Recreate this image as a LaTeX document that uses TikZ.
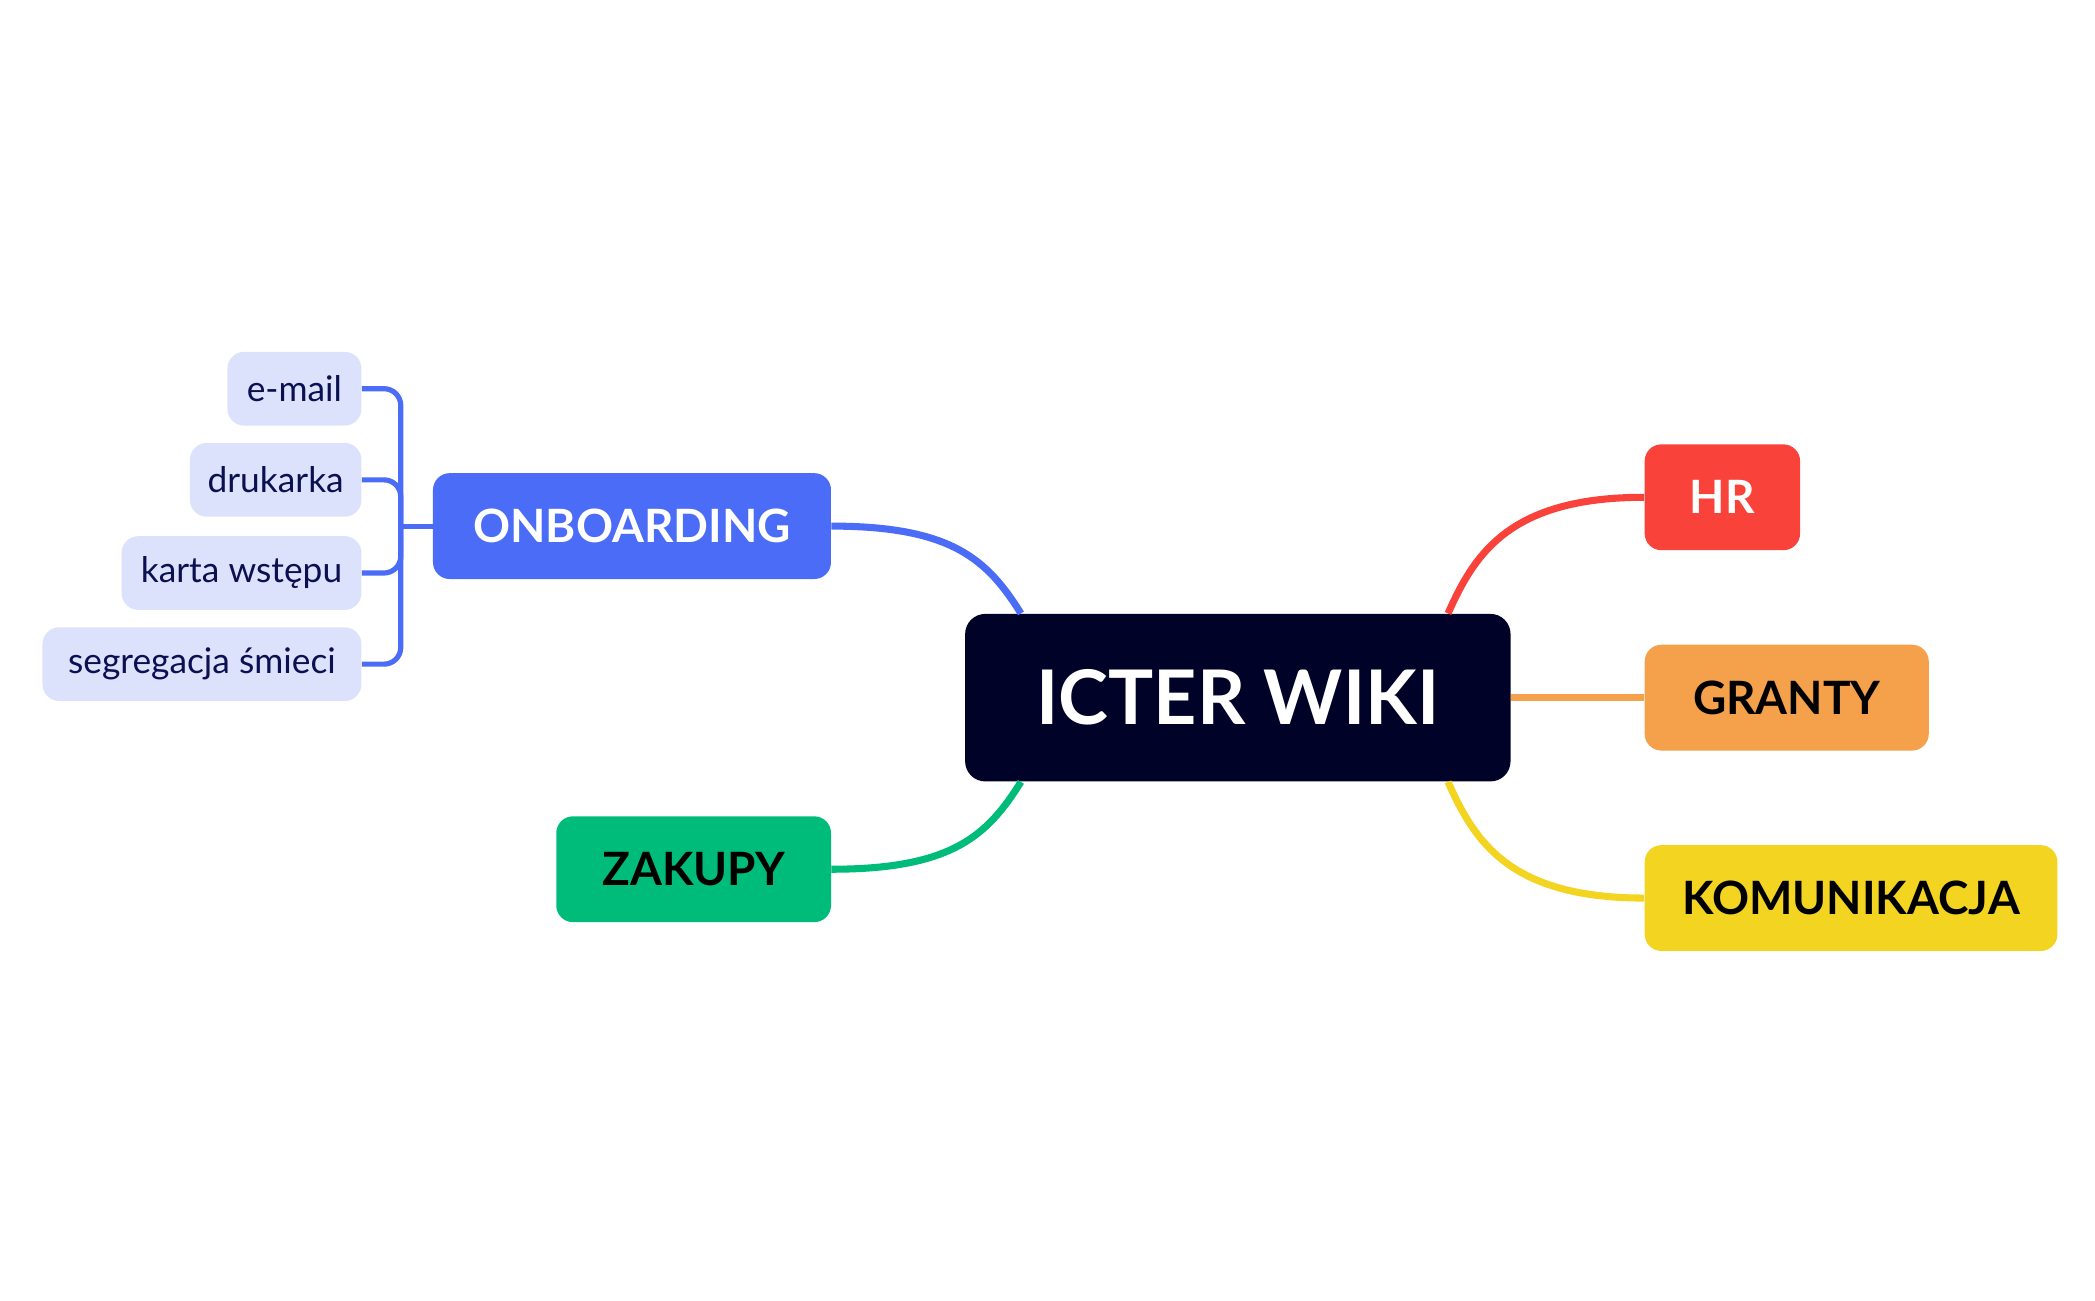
\documentclass[tikz,border=0pt]{standalone}
\usepackage{fontspec}
\setmainfont{Lato}
\usetikzlibrary{positioning, calc}
\definecolor{navy}{HTML}{000228}
\definecolor{obblue}{HTML}{4A6CF7}
\definecolor{leafbg}{HTML}{DDE2FC}
\definecolor{leaftx}{HTML}{0A1050}
\definecolor{zgreen}{HTML}{00BC7B}
\definecolor{hrred}{HTML}{F9423A}
\definecolor{gorange}{HTML}{F5A04A}
\definecolor{kyellow}{HTML}{F2D421}
\tikzset{box/.style = {
  rectangle, rounded corners=2.5mm,
  minimum height=1.58cm,
  text centered, font=\fontsize{19.5}{24}\selectfont\bfseries
  }}
\tikzset{leaf/.style = {
  rectangle, rounded corners=2.5mm,
  fill=leafbg, text=leaftx,
  minimum height=1.1cm, anchor=east,
  font=\fontsize{15}{18}\selectfont
  }}
\tikzset{link/.style = {line width=3pt, draw=#1}}
\begin{document}
\begin{tikzpicture}[x=0.02cm, y=-0.02cm]
\useasboundingbox (0,0) rectangle (1563,970);

% NODES
\node (wiki) [box, fill=navy, text=white, minimum width=8.14cm, minimum height=2.5cm,
  rounded corners=3mm, font=\fontsize{32}{36}\selectfont\bfseries] at (923.5,520.5) {ICTER WIKI};
\node (onb) [box, fill=obblue, text=white, minimum width=5.94cm] at (471.5,392.5) {ONBOARDING};
\node (zak) [box, fill=zgreen, text=black, minimum width=4.1cm] at (517.5,648.5) {ZAKUPY};
\node (hr) [box, fill=hrred, text=white, minimum width=2.32cm] at (1285,371) {HR};
\node (gra) [box, fill=gorange, text=black, minimum width=4.24cm] at (1333,520.5) {GRANTY};
\node (kom) [box, fill=kyellow, text=black, minimum width=6.16cm] at (1381,670) {KOMUNIKACJA};

% leaves
\node (mail) [leaf, minimum width=2.0cm] at (270,290) {e-mail};
\node (druk) [leaf, minimum width=2.56cm] at (270,358) {drukarka};
\node (karta) [leaf, minimum width=3.58cm] at (270,427.5) {karta wstępu};
\node (segr) [leaf, minimum width=4.76cm] at (270,495.5) {segregacja śmieci};

% links
\coordinate (wnw) at ($(wiki.north west)+(42,0)$);
\coordinate (wne) at ($(wiki.north east)+(-47,0)$);
\coordinate (wsw) at ($(wiki.south west)+(42,0)$);
\coordinate (wse) at ($(wiki.south east)+(-47,0)$);
\draw [link=obblue] (onb.east) .. controls +(90,0) and +(-25,-40) .. (wnw);
\draw [link=zgreen] (zak.east) .. controls +(90,0) and +(-25,40) .. (wsw);
\draw [link=hrred] (hr.west) .. controls +(-100,0) and +(20,-45) .. (wne);
\draw [link=gorange] (wiki.east) -- (gra.west);
\draw [link=kyellow] (kom.west) .. controls +(-100,0) and +(20,45) .. (wse);

\coordinate (fork) at (299,392.5);
\draw [link=obblue, line width=2.2pt] (onb.west) -- (fork);
\foreach \l in {mail, druk, karta, segr}
  \draw [link=obblue, line width=2.2pt, rounded corners=2.5mm] (fork) |- (\l.east);
\end{tikzpicture}
\end{document}
